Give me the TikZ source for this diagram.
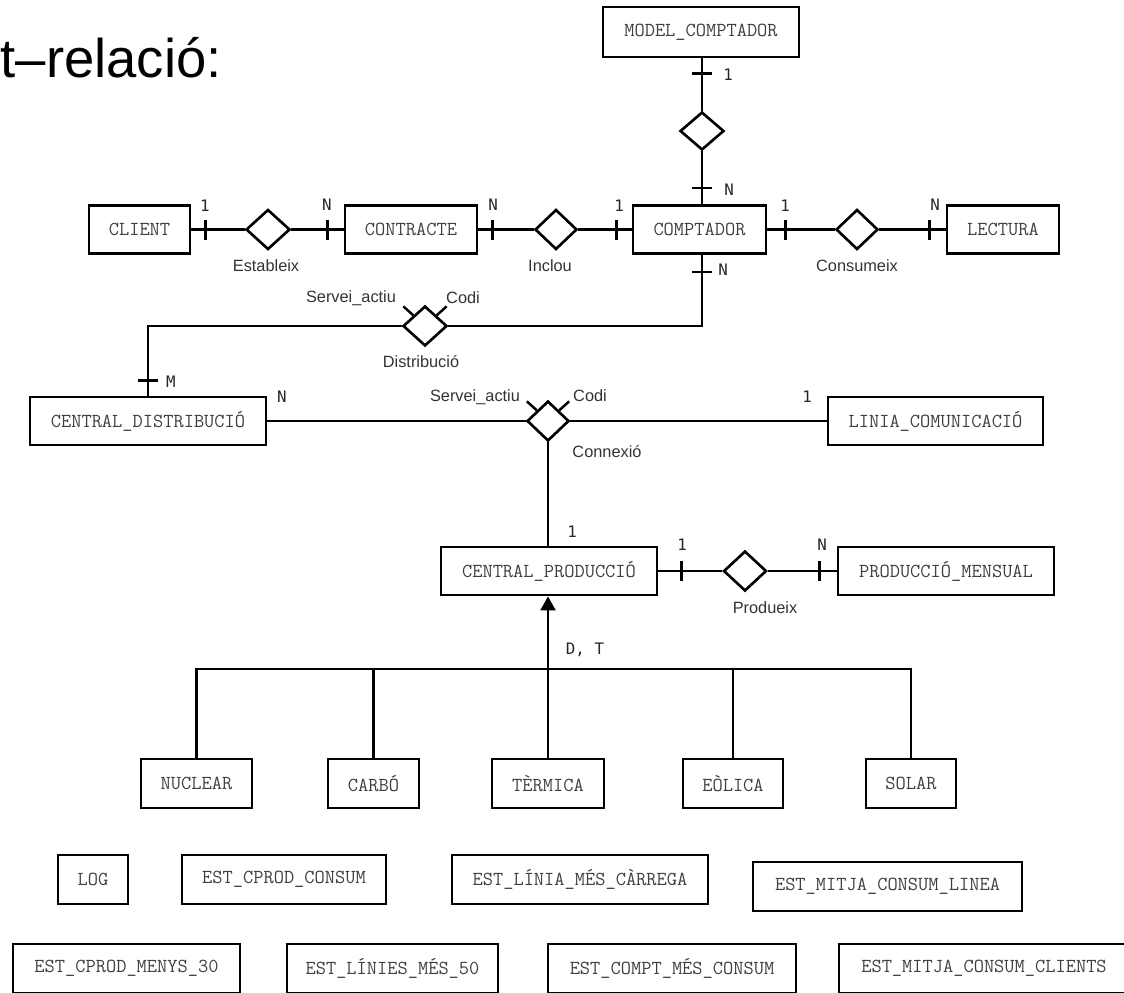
\documentclass[tikz,border=0pt]{standalone}
\usepackage{fontspec}
\usetikzlibrary{shapes.geometric,arrows.meta,calc}
\newfontfamily\lblfont{Liberation Sans}
\newfontfamily\cardfont{DejaVu Sans Mono}
\def\pxu{0.02cm}
\tikzset{
  ent/.style={draw, line width=1.6pt, minimum height=48*\pxu, inner sep=0pt, text=black!75,
    font=\ttfamily\addfontfeatures{FakeBold=0.6}\fontsize{11.3}{13}\selectfont},
  rel/.style={draw, shape=diamond, line width=1.5pt, inner sep=0pt},
  conn/.style={line width=1.4pt},
  lbl/.style={inner sep=0pt, text=black!80, font=\lblfont\fontsize{9.3}{11}\selectfont},
  card/.style={inner sep=0pt, text=black!85, font=\cardfont\fontsize{9}{11}\selectfont},
}
\begin{document}
\begin{tikzpicture}[x=0.02cm, y=-0.02cm]
\useasboundingbox (0,0) rectangle (1124,992);

% title fragment
\node[anchor=base east, inner sep=0pt, font=\lblfont\fontsize{31}{36}\selectfont] (title) at (222,77) {t–relació:};

% entities
\node[ent, minimum width=196*\pxu, minimum height=50*\pxu] (model) at (701,32) {MODEL\_COMPTADOR};
\node[ent, minimum width=101*\pxu] (client) at (139.5,229.5) {CLIENT};
\node[ent, minimum width=132*\pxu] (contracte) at (411,229.5) {CONTRACTE};
\node[ent, minimum width=133*\pxu] (comptador) at (699.5,229.5) {COMPTADOR};
\node[ent, minimum width=112*\pxu] (lectura) at (1003,229.5) {LECTURA};
\node[ent, minimum width=236*\pxu] (cdist) at (148,421) {CENTRAL\_DISTRIBUCIÓ};
\node[ent, minimum width=215*\pxu] (linia) at (935.5,421) {LINIA\_COMUNICACIÓ};
\node[ent, minimum width=216*\pxu] (cprod) at (549,571) {CENTRAL\_PRODUCCIÓ};
\node[ent, minimum width=216*\pxu] (pmensual) at (946,571) {PRODUCCIÓ\_MENSUAL};
\node[ent, minimum width=111*\pxu, minimum height=49*\pxu] (nuclear) at (196.5,783.5) {NUCLEAR};
\node[ent, minimum width=91*\pxu, minimum height=49*\pxu] (carbo) at (373.5,783.5) {CARBÓ};
\node[ent, minimum width=112*\pxu, minimum height=49*\pxu] (termica) at (548,783.5) {TÈRMICA};
\node[ent, minimum width=100*\pxu, minimum height=49*\pxu] (eolica) at (733,783.5) {EÒLICA};
\node[ent, minimum width=90*\pxu, minimum height=49*\pxu] (solar) at (911,783.5) {SOLAR};
\node[ent, minimum width=70*\pxu, minimum height=49*\pxu] (log) at (93,879.5) {LOG};
\node[ent, minimum width=204*\pxu, minimum height=49*\pxu] (estcprod) at (284,879.5) {EST\_CPROD\_CONSUM};
\node[ent, minimum width=256*\pxu, minimum height=49*\pxu] (estlinia) at (580,879.5) {EST\_LÍNIA\_MÉS\_CÀRREGA};
\node[ent, minimum width=269*\pxu, minimum height=49*\pxu] (estmitjal) at (887.5,886.5) {EST\_MITJA\_CONSUM\_LINEA};
\node[ent, minimum width=227*\pxu, minimum height=49*\pxu] (estmenys) at (126.5,968.5) {EST\_CPROD\_MENYS\_30};
\node[ent, minimum width=211*\pxu, minimum height=49*\pxu] (estlinies) at (392.5,968.5) {EST\_LÍNIES\_MÉS\_50};
\node[ent, minimum width=248*\pxu, minimum height=49*\pxu] (estcompt) at (672,968.5) {EST\_COMPT\_MÉS\_CONSUM};
\node[ent, minimum width=290*\pxu, minimum height=49*\pxu] (estmitjac) at (984,968.5) {EST\_MITJA\_CONSUM\_CLIENTS};

% relationships
\node[rel, minimum width=44*\pxu, minimum height=38*\pxu] (dm) at (702,131) {};
\node[rel, minimum width=44*\pxu, minimum height=40*\pxu] (estableix) at (268,229.5) {};
\node[rel, minimum width=42*\pxu, minimum height=40*\pxu] (inclou) at (556,229.5) {};
\node[rel, minimum width=42*\pxu, minimum height=40*\pxu] (consumeix) at (857,229.5) {};
\node[rel, minimum width=44*\pxu, minimum height=40*\pxu] (distrib) at (425,326) {};
\node[rel, minimum width=42*\pxu, minimum height=40*\pxu] (connexio) at (548,421) {};
\node[rel, minimum width=43*\pxu, minimum height=40*\pxu] (produeix) at (745,571) {};

% connectors
\draw[conn] (model.south -| dm) -- (dm.north);
\draw[conn] (dm.south) -- (dm |- comptador.north);
\draw[conn] (client.east) -- (estableix.west);
\draw[conn] (estableix.east) -- (contracte.west);
\draw[conn] (contracte.east) -- (inclou.west);
\draw[conn] (inclou.east) -- (comptador.west);
\draw[conn] (comptador.east) -- (consumeix.west);
\draw[conn] (consumeix.east) -- (lectura.west);
\draw[conn] (dm |- comptador.south) |- (distrib.east);
\draw[conn] (distrib.west) -| (cdist.north);
\draw[conn] (cdist.east) -- (connexio.west);
\draw[conn] (connexio.east) -- (linia.west);
\draw[conn] (connexio.south) -- (connexio |- cprod.north);
\draw[conn] (cprod.east) -- (produeix.west);
\draw[conn] (produeix.east) -- (pmensual.west);

% ISA hierarchy
\coordinate (isa) at (548,669);
\draw[conn] (nuclear.north) |- (isa) -| (solar.north);
\draw[conn] (carbo.north) -- (carbo.north |- isa);
\draw[conn] (eolica.north) -- (eolica.north |- isa);
\draw[conn, -{Triangle[length=14*\pxu, width=15*\pxu]}] (termica.north) -- (termica.north |- cprod.south);

% cardinality ticks
\draw[conn] ($(model.south -| dm)+(-10,15)$) -- ++(20,0);
\draw[conn] ($(dm |- comptador.north)+(-10,-16)$) -- ++(20,0);
\draw[conn] ($(dm |- comptador.south)+(-10,17)$) -- ++(20,0);
\draw[conn] ($(client.east)+(14,-10)$) -- ++(0,20);
\draw[conn] ($(contracte.west)+(-16,-10)$) -- ++(0,20);
\draw[conn] ($(contracte.east)+(14,-10)$) -- ++(0,20);
\draw[conn] ($(comptador.west)+(-15,-10)$) -- ++(0,20);
\draw[conn] ($(comptador.east)+(18,-10)$) -- ++(0,20);
\draw[conn] ($(lectura.west)+(-16,-10)$) -- ++(0,20);
\draw[conn] ($(cdist.north)+(-10,-15)$) -- ++(20,0);
\draw[conn] ($(cprod.east)+(23,-10)$) -- ++(0,20);
\draw[conn] ($(pmensual.west)+(-17,-10)$) -- ++(0,20);

% attribute stubs
\draw[conn] ($(distrib.west)!0.5!(distrib.north)$) -- ++(-10,-9);
\draw[conn] ($(distrib.east)!0.5!(distrib.north)$) -- ++(10,-9);
\draw[conn] ($(connexio.west)!0.5!(connexio.north)$) -- ++(-10,-9);
\draw[conn] ($(connexio.east)!0.5!(connexio.north)$) -- ++(10,-9);

% cardinality labels
\node[card] (c1) at (728,75) {1};
\node[card] (c2) at (729,190) {N};
\node[card] (c3) at (205,206) {1};
\node[card] (c4) at (327,205) {N};
\node[card] (c5) at (493,205) {N};
\node[card] (c6) at (619,206) {1};
\node[card] (c7) at (785,206) {1};
\node[card] (c8) at (935,205) {N};
\node[card] (c9) at (723,270) {N};
\node[card] (c10) at (171,382) {M};
\node[card] (c11) at (282,397) {N};
\node[card] (c12) at (807,397) {1};
\node[card] (c13) at (572,532) {1};
\node[card] (c14) at (682,545) {1};
\node[card] (c15) at (822,545) {N};
\node[card] (dt) at (585,650) {D, T};

% relationship labels
\node[lbl] (l1) at (266,266) {Estableix};
\node[lbl] (l2) at (550,266) {Inclou};
\node[lbl] (l3) at (857,266) {Consumeix};
\node[lbl] (l4) at (351,298) {Servei\_actiu};
\node[lbl] (l5) at (463,298) {Codi};
\node[lbl] (l6) at (421,362) {Distribució};
\node[lbl] (l7) at (475,397) {Servei\_actiu};
\node[lbl] (l8) at (590,396) {Codi};
\node[lbl] (l9) at (607,452) {Connexió};
\node[lbl] (l10) at (765,608) {Produeix};
\end{tikzpicture}
\end{document}
